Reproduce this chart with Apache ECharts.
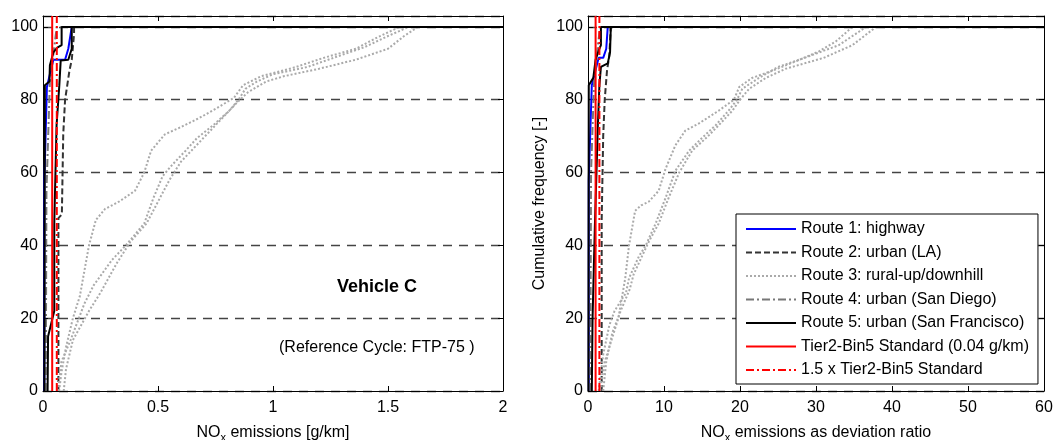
<!DOCTYPE html>
<html>
<head>
<meta charset="utf-8">
<script src="https://cdn.jsdelivr.net/npm/echarts@6/dist/echarts.min.js"></script>
<style>
  html, body { margin: 0; padding: 0; background: #fff; }
  #main { width: 1057px; height: 440px; }
</style>
</head>
<body>
<div id="main"></div>
<script>
// 图例名称
var names = [
  "Route 1: highway",
  "Route 2: urban (LA)",
  "Route 3: rural-up/downhill",
  "Route 4: urban (San Diego)",
  "Route 5: urban (San Francisco)",
  "Tier2-Bin5 Standard (0.04 g/km)",
  "1.5 x Tier2-Bin5 Standard"
];
var xTicksLeft = [0, 0.5, 1, 1.5, 2];
var xTicksRight = [0, 10, 20, 30, 40, 50, 60];
var yTicks = [0, 20, 40, 60, 80, 100];

// 左图 NOx g/km  [x, 累计频率]
var route1Left = [[0.006,0],[0.006,58],[0.017,83.5],[0.045,91],[0.096,91],[0.11,94],[0.125,100],[2,100]];
var route2Left = [[0.067,0],[0.067,47.5],[0.082,48.5],[0.088,70.5],[0.096,80],[0.115,88],[0.125,91],[0.135,98],[0.135,100],[2,100]];
var route3aLeft = [[0.07,0],[0.08,5],[0.1,12],[0.13,20],[0.16,26],[0.2,40],[0.23,47],[0.27,50],[0.33,52],[0.4,55],[0.44,60],[0.47,66],[0.53,70.5],[0.6,72.5],[0.68,75],[0.75,77.5],[0.83,80.5],[0.87,84],[0.95,86.5],[1.0,87.3],[1.1,89],[1.22,91.5],[1.36,94],[1.45,97],[1.55,100],[2,100]];
var route3bLeft = [[0.065,0],[0.08,8],[0.12,14],[0.18,24],[0.22,29],[0.3,36],[0.36,40],[0.44,46],[0.48,53],[0.52,59],[0.56,62],[0.62,66],[0.67,69.5],[0.74,73],[0.81,77],[0.85,80],[0.88,83],[0.93,85],[1.0,87],[1.15,89],[1.24,91],[1.4,94.5],[1.5,97.5],[1.59,100],[2,100]];
var route3cLeft = [[0.09,0],[0.1,6],[0.13,14],[0.2,22],[0.25,27],[0.32,35],[0.38,41],[0.45,46],[0.5,52],[0.55,58],[0.6,63],[0.66,67],[0.72,71],[0.78,75],[0.84,79],[0.89,82],[0.97,85],[1.05,86.5],[1.2,88.5],[1.36,91],[1.5,94],[1.57,97.5],[1.63,100],[2,100]];
var route4Left = [[0.012,0],[0.015,55],[0.03,85],[0.05,95],[0.06,100],[2,100]];
var route5aLeft = [[0.006,0],[0.008,84],[0.028,85],[0.03,89.5],[0.045,93],[0.062,94.3],[0.081,95],[0.081,100],[2,100]];
var route5bLeft = [[0.02,0],[0.022,15],[0.049,22],[0.049,46],[0.059,73],[0.071,84],[0.077,90.8],[0.11,91],[0.125,94],[0.125,100],[2,100]];
var tierLeft = [[0.04,0],[0.04,103]];
var tier15Left = [[0.06,0],[0.06,103]];

// 右图 偏差比
var route1Right = [[0.1,0],[0.1,58],[0.5,84],[1.4,91.5],[2.0,91.5],[2.4,94],[2.6,100],[60,100]];
var route2Right = [[1.8,0],[1.8,47],[2.0,70],[2.2,80],[2.5,88],[2.8,92],[3.0,100],[60,100]];
var route3aRight = [[1.6,0],[2.2,8],[3.1,14],[4.0,20],[4.9,31],[5.4,40],[6.2,49.5],[7.0,51],[8.0,52],[9.3,55],[10.2,61],[11.5,67.5],[12.8,71.5],[14.6,73.5],[17.2,77],[19.2,80],[19.9,83.5],[21.6,86],[24.3,88],[27.3,90.5],[30.4,93.3],[32.6,96],[34.8,100],[60,100]];
var route3bRight = [[1.4,0],[2.0,10],[2.8,18],[3.5,22],[5.0,27],[5.4,31],[6.7,37],[7.6,40],[8.9,46],[10.2,53],[11.5,60.5],[13.3,66],[15.0,69.5],[16.8,73],[18.5,77],[19.6,80],[20.3,83],[22.5,86],[25.0,89],[28.5,91.5],[33.0,95],[36.6,100],[60,100]];
var route3cRight = [[2.0,0],[2.4,8],[3.2,16],[4.3,22],[5.5,28],[6.0,32],[7.1,37],[8.0,41],[9.3,46],[10.6,53],[12.0,60],[13.7,66],[15.8,70],[17.2,73],[19.0,77],[20.0,80],[21.2,83],[23.4,86],[26.0,88.5],[31.0,91.5],[34.8,95],[37.9,100],[60,100]];
var route4Right = [[0.3,0],[0.4,60],[0.8,85],[1.3,95],[1.6,100],[60,100]];
var route5aRight = [[0.05,0],[0.1,84],[0.7,86],[1.0,91],[1.5,94],[1.7,95],[1.7,100],[60,100]];
var route5bRight = [[0.5,0],[0.6,20],[0.9,45],[1.3,73],[1.5,84],[1.7,89],[2.6,90],[2.9,93],[3.0,100],[60,100]];
var tierRight = [[1,0],[1,103]];
var tier15Right = [[1.5,0],[1.5,103]];

var FONT = "Liberation Sans, Arial, sans-serif";

// 线型
var styles = [
  { color: "#0000ff", width: 2, type: "solid" },
  { color: "#333333", width: 2, type: [6, 3] },
  { color: "#aaaaaa", width: 2, type: [2, 2] },
  { color: "#777777", width: 2, type: [8, 3, 2, 3] },
  { color: "#000000", width: 2, type: "solid" },
  { color: "#ff0000", width: 2, type: "solid" },
  { color: "#ff0000", width: 2, type: [8, 3, 2, 3] }
];

function line(idx, data, axis) {
  return {
    type: "line",
    name: names[idx],
    data: data,
    xAxisIndex: axis * 2,
    yAxisIndex: axis * 2,
    symbol: "none",
    color: styles[idx].color,
    lineStyle: styles[idx],
    animation: false
  };
}

var edgeLine = { show: true, onZero: false, lineStyle: { color: "#000", width: 1 } };
var inTick = { show: true, inside: true, length: 5, lineStyle: { color: "#000" } };

function xAxisPair(gridIndex, max, interval, ticks, nameRich) {
  return [
    {
      type: "value", gridIndex: gridIndex, position: "bottom",
      min: 0, max: max, interval: interval,
      axisLine: edgeLine, axisTick: inTick,
      axisLabel: {
        margin: 9, color: "#000", fontSize: 16, fontFamily: FONT,
        formatter: function (v) { return ticks.indexOf(v) >= 0 ? String(v) : ""; }
      },
      splitLine: { show: false },
      name: nameRich, nameLocation: "middle", nameGap: 32,
      nameTextStyle: {
        color: "#000", fontSize: 16, fontFamily: FONT,
        rich: {
          n: { fontSize: 16, fontFamily: FONT, color: "#000" },
          s: { fontSize: 11, fontFamily: FONT, color: "#000", padding: [9, 0, 0, 0] }
        }
      }
    },
    {
      type: "value", gridIndex: gridIndex, position: "top",
      min: 0, max: max, interval: interval,
      axisLine: edgeLine, axisTick: inTick,
      axisLabel: { show: false },
      splitLine: { show: false }
    }
  ];
}

function yAxisPair(gridIndex, name) {
  return [
    {
      type: "value", gridIndex: gridIndex, position: "left",
      min: 0, max: 103, interval: 20,
      axisLine: edgeLine, axisTick: inTick,
      axisLabel: {
        margin: 5, color: "#000", fontSize: 16, fontFamily: FONT,
        formatter: function (v) { return yTicks.indexOf(v) >= 0 ? String(v) : ""; }
      },
      splitLine: {
        show: true,
        lineStyle: { color: "#444", width: 1.3, type: [9, 7] }
      },
      name: name, nameLocation: "middle", nameGap: 40, nameRotate: 90,
      nameTextStyle: { color: "#000", fontSize: 16, fontFamily: FONT }
    },
    {
      type: "value", gridIndex: gridIndex, position: "right",
      min: 0, max: 103, interval: 20,
      axisLine: edgeLine, axisTick: inTick,
      axisLabel: { show: false },
      splitLine: { show: false }
    }
  ];
}

var option = {
  backgroundColor: "#fff",
  animation: false,
  textStyle: { fontFamily: FONT },
  grid: [
    { left: 43, right: 554, top: 16, bottom: 49, containLabel: false, outerBoundsMode: "none" },
    { left: 588, right: 13, top: 16, bottom: 49, containLabel: false, outerBoundsMode: "none" }
  ],
  xAxis: xAxisPair(0, 2, 0.5, xTicksLeft, "{n|NO}{s|x}{n| emissions [g/km]}")
    .concat(xAxisPair(1, 60, 10, xTicksRight, "{n|NO}{s|x}{n| emissions as deviation ratio}")),
  yAxis: yAxisPair(0, "").concat(yAxisPair(1, "Cumulative frequency [-]")),
  legend: {
    data: names,
    orient: "vertical",
    left: 736,
    top: 214,
    itemWidth: 50,
    itemHeight: 14,
    itemGap: 7.5,
    padding: [7, 9, 6, 9],
    backgroundColor: "#fff",
    borderColor: "#000",
    borderWidth: 1,
    borderRadius: 0,
    selectedMode: false,
    itemStyle: { opacity: 0 },
    textStyle: { color: "#000", fontSize: 16, fontFamily: FONT }
  },
  graphic: [
    {
      type: "text", left: 337, top: 278,
      style: { text: "Vehicle C", font: "bold 18px " + FONT, fill: "#000" }
    },
    {
      type: "text", left: 279, top: 340,
      style: { text: "(Reference Cycle: FTP-75 )", font: "16px " + FONT, fill: "#000" }
    }
  ],
  series: [
    line(0, route1Left, 0),
    line(1, route2Left, 0),
    line(2, route3aLeft, 0),
    line(2, route3bLeft, 0),
    line(2, route3cLeft, 0),
    line(3, route4Left, 0),
    line(4, route5bLeft, 0),
    line(4, route5aLeft, 0),
    line(5, tierLeft, 0),
    line(6, tier15Left, 0),
    line(0, route1Right, 1),
    line(1, route2Right, 1),
    line(2, route3aRight, 1),
    line(2, route3bRight, 1),
    line(2, route3cRight, 1),
    line(3, route4Right, 1),
    line(4, route5bRight, 1),
    line(4, route5aRight, 1),
    line(5, tierRight, 1),
    line(6, tier15Right, 1)
  ]
};

var chartObj = echarts.init(document.getElementById("main"));
chartObj.setOption(option);
window.addEventListener("resize", function () { chartObj.resize(); });
</script>
</body>
</html>
